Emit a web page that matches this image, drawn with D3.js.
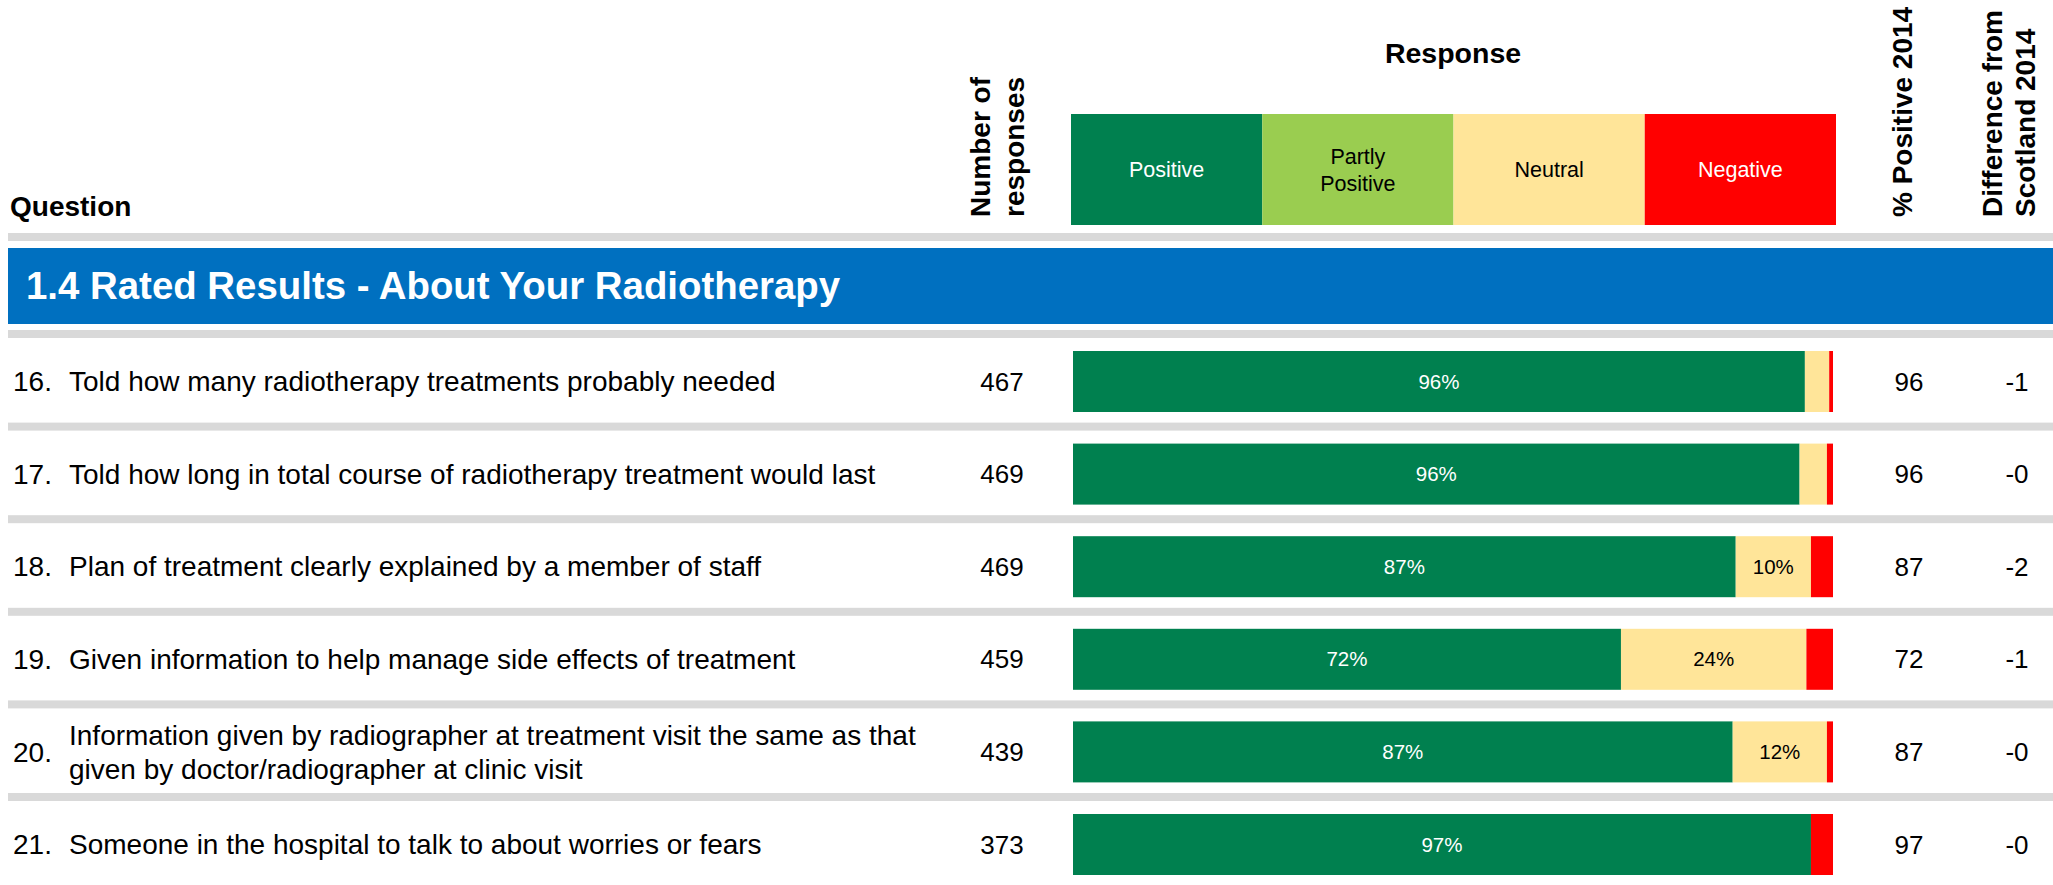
<!DOCTYPE html>
<html>
<head>
<meta charset="utf-8">
<script src="https://cdn.jsdelivr.net/npm/d3@7"></script>
<style>
  body { margin: 0; background: #fff; }
  svg text { font-family: "Liberation Sans", Arial, sans-serif; }
</style>
</head>
<body>
<div id="chart"></div>
<script>
// ---- data ----
const qNumbers = ["16.", "17.", "18.", "19.", "20.", "21."];
const questions = [
    "Told how many radiotherapy treatments probably needed",
    "Told how long in total course of radiotherapy treatment would last",
    "Plan of treatment clearly explained by a member of staff",
    "Given information to help manage side effects of treatment",
    "Information given by radiographer at treatment visit the same as that\ngiven by doctor/radiographer at clinic visit",
    "Someone in the hospital to talk to about worries or fears"
];
const nResponses = [467, 469, 469, 459, 439, 373];
const positive = [96.3, 95.6, 87.2, 72.1, 86.8, 97.1];
const partlyPositive = [0, 0, 0, 0, 0, 0];
const neutral = [3.2, 3.6, 9.9, 24.4, 12.4, 0];
const negative = [0.5, 0.8, 2.9, 3.5, 0.8, 2.9];
const positive2014 = [96, 96, 87, 72, 87, 97];
const diffScotland = ["-1", "-0", "-2", "-1", "-0", "-0"];

const categories = ["Positive", "Partly Positive", "Neutral", "Negative"];
const categoryKeys = ["positive", "partly", "neutral", "negative"];
const colors = ["#00804F", "#9ACD50", "#FFE599", "#FF0000"];
const labelColors = ["#fff", "#000", "#000", "#fff"];

const sectionTitle = "1.4 Rated Results - About Your Radiotherapy";

// ---- layout ----
const width = 2053, height = 885;
const gray = "#D9D9D9";

const rows = questions.map((q, i) => ({
    num: qNumbers[i],
    text: q,
    n: nResponses[i],
    positive: positive[i],
    partly: partlyPositive[i],
    neutral: neutral[i],
    negative: negative[i],
    pos2014: positive2014[i],
    diff: diffScotland[i]
}));

const svg = d3.select("#chart").append("svg")
    .attr("width", width)
    .attr("height", height);

// scales
let xScale = d3.scaleLinear().domain([0, 100]).range([1073, 1833]);
let yScale = d3.scaleBand().domain(d3.range(rows.length)).range([330, 330 + 92.6 * rows.length]);
let legendScale = d3.scaleBand().domain(categories).range([1071, 1836]);

// ---- header ----
svg.append("text")
    .text("Question")
    .attr("x", 10).attr("y", 216)
    .style("font-size", "28px").style("font-weight", "bold");

svg.append("text")
    .text("Response")
    .attr("x", 1453).attr("y", 63)
    .style("text-anchor", "middle")
    .style("font-size", "28.5px").style("font-weight", "bold");

let legend = svg.selectAll(".legendBox")
    .data(categories)
    .enter().append("g")
    .attr("class", "legendBox");

legend.append("rect")
    .attr("x", d => legendScale(d))
    .attr("y", 114)
    .attr("width", legendScale.bandwidth())
    .attr("height", 111)
    .style("fill", (d, i) => colors[i]);

legend.each(function (d, i) {
    let words = d.split(" ");
    let g = d3.select(this);
    let cx = legendScale(d) + legendScale.bandwidth() / 2;
    words.forEach((w, k) => {
        g.append("text")
            .text(w)
            .attr("x", cx)
            .attr("y", 169.5 + (k - (words.length - 1) / 2) * 27)
            .attr("dy", "0.35em")
            .style("text-anchor", "middle")
            .style("font-size", "21.5px")
            .style("fill", labelColors[i]);
    });
});

// rotated column headers
function rotatedHeader(lines, xs) {
    lines.forEach((t, k) => {
        svg.append("text")
            .text(t)
            .attr("transform", "translate(" + xs[k] + "," + 217 + ") rotate(-90)")
            .style("font-size", "28px").style("font-weight", "bold");
    });
}
rotatedHeader(["Number of", "responses"], [990, 1024]);
rotatedHeader(["% Positive 2014"], [1912]);
rotatedHeader(["Difference from", "Scotland 2014"], [2002, 2035]);

// header separator + section band
svg.append("rect").attr("x", 8).attr("y", 233).attr("width", width - 8).attr("height", 8).style("fill", gray);
svg.append("rect").attr("x", 8).attr("y", 248).attr("width", width - 8).attr("height", 76).style("fill", "#0070C0");
svg.append("text")
    .text(sectionTitle)
    .attr("x", 26).attr("y", 286)
    .attr("dy", "0.35em")
    .style("font-size", "38.4px").style("font-weight", "bold")
    .style("fill", "#fff");

// ---- rows ----
let rowG = svg.selectAll(".row")
    .data(rows)
    .enter().append("g")
    .attr("class", "row")
    .attr("transform", (d, i) => "translate(0," + yScale(i) + ")");

rowG.append("rect")
    .attr("x", 8).attr("y", 0)
    .attr("width", width - 8).attr("height", 8)
    .style("fill", gray);

const barTop = 21, barH = 61, mid = barTop + barH / 2;

rowG.append("text")
    .text(d => d.num)
    .attr("x", 13).attr("y", mid).attr("dy", "0.35em")
    .style("font-size", "28px");

rowG.each(function (d) {
    let lines = d.text.split("\n");
    lines.forEach((t, k) => {
        d3.select(this).append("text")
            .text(t)
            .attr("x", 69)
            .attr("y", mid + (k - (lines.length - 1) / 2) * 34)
            .attr("dy", "0.35em")
            .style("font-size", "28px");
    });
});

rowG.append("text")
    .text(d => d.n)
    .attr("x", 1002).attr("y", mid).attr("dy", "0.35em")
    .style("text-anchor", "middle")
    .style("font-size", "26px");

rowG.append("text")
    .text(d => d.pos2014)
    .attr("x", 1909).attr("y", mid).attr("dy", "0.35em")
    .style("text-anchor", "middle")
    .style("font-size", "26px");

rowG.append("text")
    .text(d => d.diff)
    .attr("x", 2017).attr("y", mid).attr("dy", "0.35em")
    .style("text-anchor", "middle")
    .style("font-size", "26px");

// stacked bars
let stack = d3.stack().keys(categoryKeys);
let series = stack(rows);

series.forEach((s, si) => {
    rowG.data(s).each(function (seg) {
        let g = d3.select(this);
        let w = xScale(seg[1]) - xScale(seg[0]);
        if (w <= 0) return;
        g.append("rect")
            .attr("x", xScale(seg[0]))
            .attr("y", barTop)
            .attr("width", w)
            .attr("height", barH)
            .style("fill", colors[si]);
        let v = seg[1] - seg[0];
        if (v >= 5) {
            g.append("text")
                .text(Math.round(v) + "%")
                .attr("x", (xScale(seg[0]) + xScale(seg[1])) / 2)
                .attr("y", mid).attr("dy", "0.35em")
                .style("text-anchor", "middle")
                .style("font-size", "20.5px")
                .style("fill", labelColors[si]);
        }
    });
});
</script>
</body>
</html>
